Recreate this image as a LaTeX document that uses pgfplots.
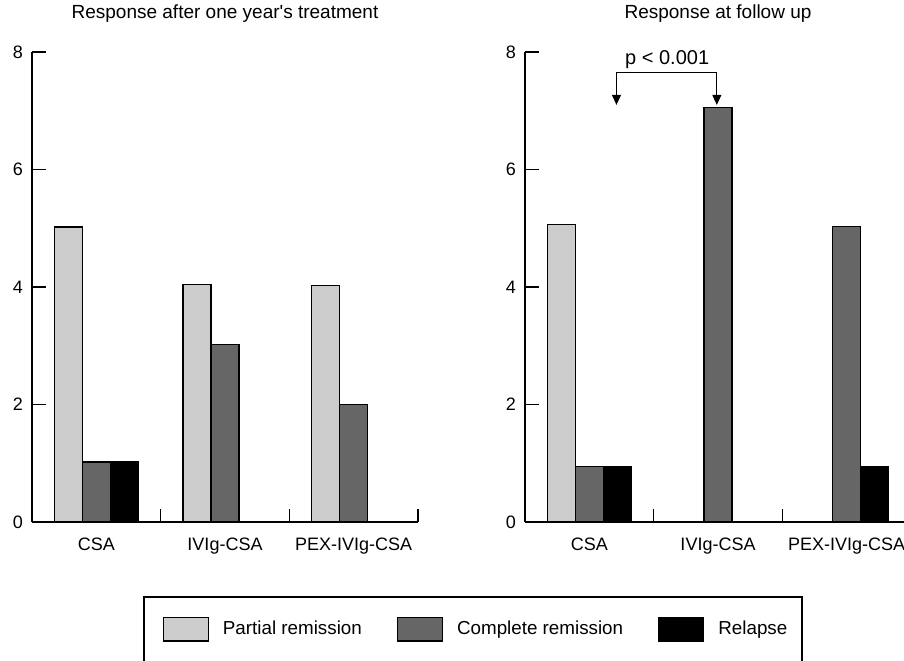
\documentclass[border=0pt]{standalone}
\usepackage{fontspec}
\setmainfont{Liberation Sans}
\usepackage{pgfplots}
\pgfplotsset{compat=1.18}
\usetikzlibrary{arrows.meta}
\definecolor{partial}{HTML}{CCCCCC}
\definecolor{complete}{HTML}{666666}
\definecolor{relapse}{HTML}{000000}

\pgfplotsset{
  panel/.style={
    scale only axis, width=193pt, height=235pt,
    xmin=0, xmax=3, ymin=0, ymax=8,
    axis x line=bottom, axis y line=left,
    axis line style={-, line width=0.65pt},
    ybar=0pt, bar width=14pt,
    tick align=inside,
    major tick length=6.75pt,
    tick style={black, line width=0.6pt},
    xtick={1,2,3}, xticklabels={,,},
    extra x ticks={0.5,1.5,2.5},
    extra x tick labels={CSA,IVIg-CSA,PEX-IVIg-CSA},
    extra x tick style={major tick length=0pt, tick style={draw=none}},
    ytick={0,2,4,6,8},
    /pgf/number format/assume math mode=true,
    tick label style={font=\fontsize{9}{11}\selectfont},
    xticklabel style={yshift=-4.5pt},
    yticklabel style={xshift=-1pt},
    title style={at={(0.5,1)}, anchor=base, yshift=11pt,
      font=\fontsize{9.5}{11}\selectfont},
    clip=false,
  },
  sw/.style={draw=black, line width=0.6pt, fill=#1,
    legend image code/.code={\draw[##1] (0pt,-5.9pt) rectangle (22.5pt,5.9pt);}},
}

\begin{document}
\begin{tikzpicture}
\useasboundingbox (0,0) rectangle (452pt,330pt);

% after one year's treatment
\begin{axis}[panel, at={(16pt,69pt)},
  title={Response after one year\textquotesingle s treatment},
  legend columns=3, legend cell align=left,
  legend style={at={(0.3376,-0.2281)}, anchor=west, draw=none, fill=none,
    inner sep=0pt, nodes={inner sep=0pt},
    font=\fontsize{9.4}{11}\selectfont,
    /tikz/every odd column/.append style={column sep=7pt},
    /tikz/every even column/.append style={column sep=17.5pt}},
]
\addplot[sw=partial] coordinates {(0.5,5.02) (1.5,4.04) (2.5,4.02)};
\addlegendentry{Partial remission}
\addplot[sw=complete] coordinates {(0.5,1.02) (1.5,3.02) (2.5,2.0)};
\addlegendentry{Complete remission}
\addplot[sw=relapse] coordinates {(0.5,1.02) (1.5,0) (2.5,0)};
\addlegendentry{Relapse}
\end{axis}

% at follow up
\begin{axis}[panel, at={(262.5pt,69pt)},
  title={Response at follow up},
]
\addplot[sw=partial] coordinates {(0.5,5.06) (1.5,0) (2.5,0)};
\addplot[sw=complete] coordinates {(0.5,0.94) (1.5,7.05) (2.5,5.03)};
\addplot[sw=relapse] coordinates {(0.5,0.94) (1.5,0) (2.5,0.94)};
\draw[line width=0.5pt, {Triangle[length=5pt,width=4.5pt]}-{Triangle[length=5pt,width=4.5pt]}]
  (axis cs:0.711,7.10) -- (axis cs:0.711,7.65) -- (axis cs:1.491,7.65) -- (axis cs:1.491,7.10);
\node[anchor=base, font=\fontsize{10}{12}\selectfont, inner sep=0pt] at (axis cs:1.105,7.79) {p < 0.001};
\end{axis}

% legend frame, cut by the lower edge
\draw[line width=0.6pt] (72pt,-3pt) -- (72pt,31.5pt) -- (401pt,31.5pt) -- (401pt,-3pt);
\end{tikzpicture}
\end{document}
